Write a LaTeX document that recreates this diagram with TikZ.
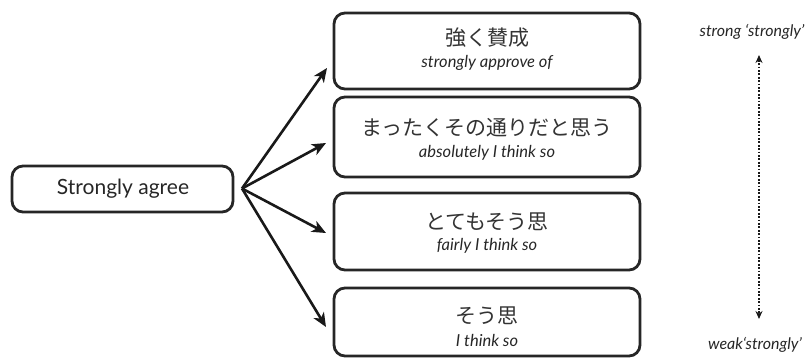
\documentclass[tikz,border=0pt]{standalone}
\usepackage{fontspec}
\setmainfont{Lato}
\newfontfamily\jp{Noto Sans CJK JP}
\usetikzlibrary{arrows.meta}
\begin{document}
\begin{tikzpicture}[x=1pt,y=-1pt,
  box/.style={draw=black!85,line width=2.8pt,rounded corners=11pt},
  arr/.style={-{Stealth[length=14pt,width=12pt,inset=4pt]},line width=2.6pt,black!90},
  jptext/.style={font=\jp\fontsize{21}{23}\selectfont,text=black!80},
  entext/.style={font=\itshape\fontsize{16.5}{18}\selectfont,text=black!85},
  sidetext/.style={font=\itshape\fontsize{16}{18}\selectfont,text=black!85}]
\useasboundingbox (0,0) rectangle (807,362);
\draw[box] (12,166) rectangle (233,212);
\node[font=\fontsize{21}{24}\selectfont,text=black!85] (src) at (123,189) {Strongly agree};
\coordinate (o) at (242,188.5);
\draw[box] (334,13) rectangle (640,89);
\draw[box] (334,97) rectangle (640,177);
\draw[box] (334,193) rectangle (640,270);
\draw[box] (334,288) rectangle (640,356);
\node[jptext] (j1) at (487,38) {強く賛成};
\node[entext] (e1) at (487,63) {strongly approve of};
\node[jptext] (j2) at (487,128) {まったくその通りだと思う};
\node[entext] (e2) at (487,153) {absolutely I think so};
\node[jptext] (j3) at (487,222) {とてもそう思};
\node[entext] (e3) at (487,246) {fairly I think so};
\node[jptext] (j4) at (487,316) {そう思};
\node[entext] (e4) at (487,340) {I think so};
\coordinate (t1) at (327,68);
\coordinate (t2) at (326,143);
\coordinate (t3) at (326,233);
\coordinate (t4) at (326,327);
\draw[arr] (o) -- (t1);
\draw[arr] (o) -- (t2);
\draw[arr] (o) -- (t3);
\draw[arr] (o) -- (t4);
\node[sidetext] (strong) at (752,32) {strong ‘strongly’};
\node[sidetext] (weak) at (755,345) {weak‘strongly’};
\coordinate (top) at (759,55);
\coordinate (bot) at (759,319);
\draw[{Stealth[length=8pt,width=7pt]}-{Stealth[length=8pt,width=7pt]},line width=1.8pt,dash pattern=on 1.8pt off 1.6pt,black!90] (top) -- (bot);
\end{tikzpicture}
\end{document}
